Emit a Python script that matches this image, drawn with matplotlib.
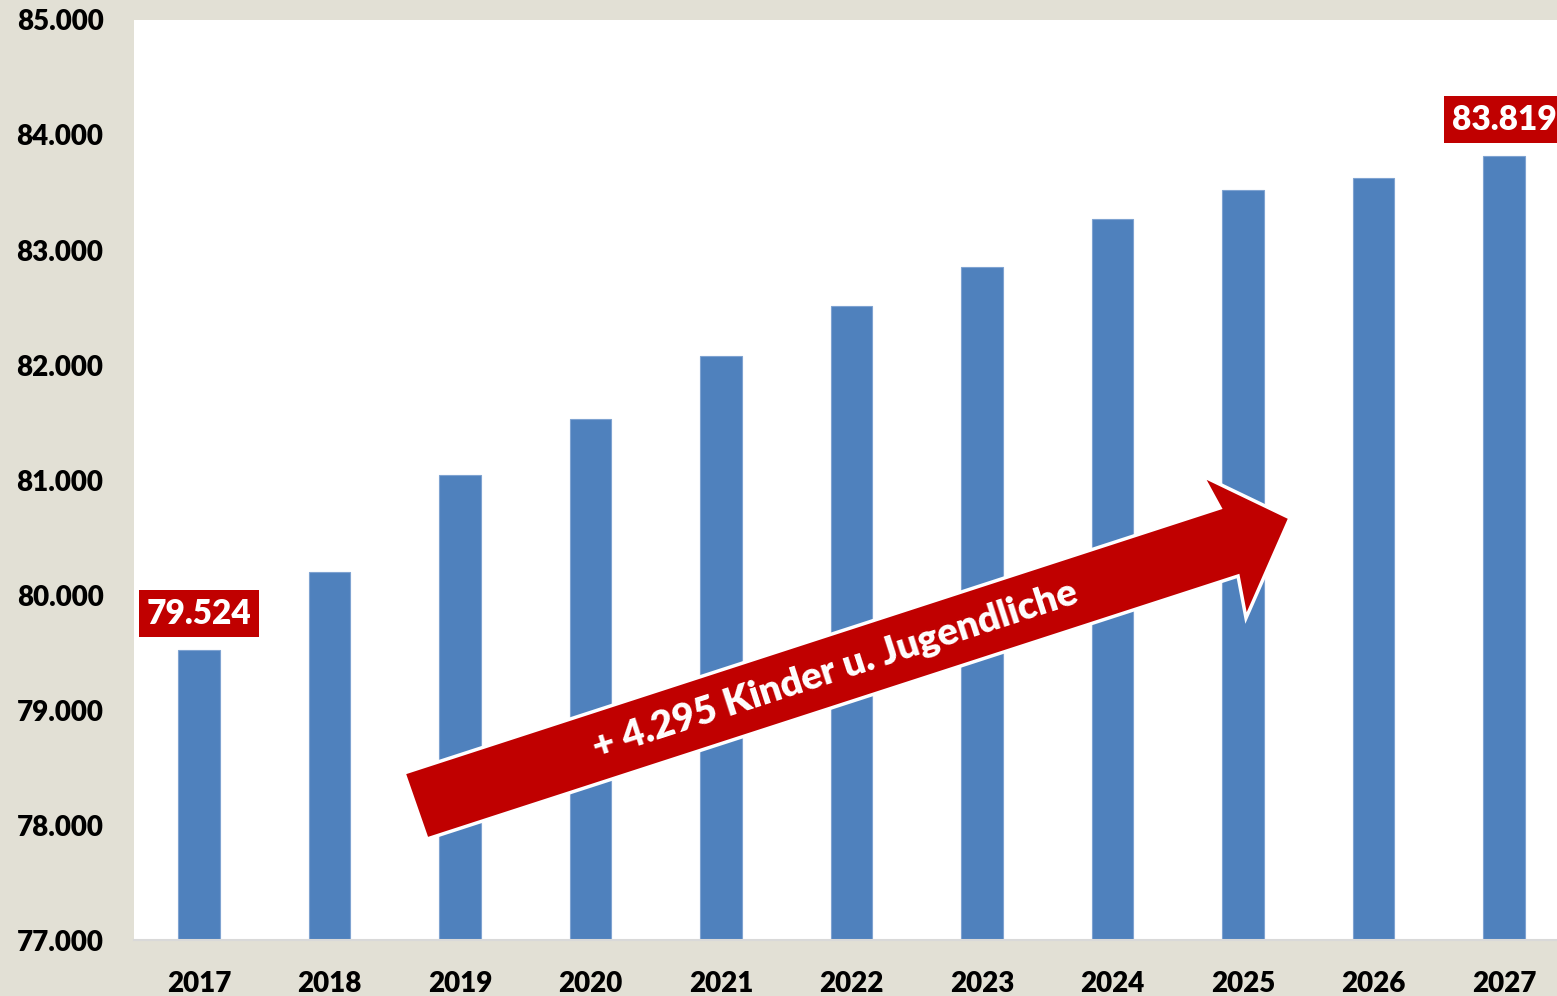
import matplotlib.pyplot as plt
from matplotlib.patches import Polygon

years = ["2017", "2018", "2019", "2020", "2021", "2022", "2023", "2024", "2025", "2026", "2027"]
values = [79524, 80200, 81040, 81530, 82080, 82510, 82850, 83270, 83520, 83630, 83819]
y_ticks = [77000, 78000, 79000, 80000, 81000, 82000, 83000, 84000, 85000]
y_tick_labels = ["77.000", "78.000", "79.000", "80.000", "81.000", "82.000", "83.000", "84.000", "85.000"]
arrow_text = "+ 4.295 Kinder u. Jugendliche"

BG = "#E2E0D5"
BAR = "#4F81BD"
RED = "#C00000"
FONT = "Lato"
WEIGHT = "heavy"


def fmt(v):
    return f"{v:,}".replace(",", ".")


def main():
    fig = plt.figure(figsize=(15.57, 9.96), dpi=100, facecolor=BG)
    ax = fig.add_axes([134 / 1557, 1 - 940 / 996, 1 - 134 / 1557, 920 / 996])
    ax.set_facecolor("white")

    x = list(range(len(years)))
    ax.bar(x, values, width=0.32, color=BAR, edgecolor="#7FA3D1", linewidth=0.8, zorder=2)

    ax.set_xlim(-0.498, 10.406)
    ax.set_ylim(77000, 85000)
    ax.set_yticks(y_ticks)
    ax.set_yticklabels(y_tick_labels)
    ax.set_xticks(x)
    ax.set_xticklabels(years)
    for lab in ax.get_xticklabels() + ax.get_yticklabels():
        lab.set_fontfamily(FONT)
        lab.set_fontweight(WEIGHT)
        lab.set_fontsize(20)
    ax.tick_params(axis="both", length=0)
    ax.tick_params(axis="y", pad=22)
    ax.tick_params(axis="x", pad=22)

    for s in ["top", "right", "left"]:
        ax.spines[s].set_visible(False)
    ax.spines["bottom"].set_color("#D9D9D9")
    ax.spines["bottom"].set_linewidth(1.5)
    ax.spines["bottom"].set_zorder(3)

    # labels for first and last year
    for i in [0, len(years) - 1]:
        ax.annotate(fmt(values[i]), xy=(x[i], values[i]), xytext=(0, 26),
                    textcoords="offset points", ha="center", va="center",
                    fontsize=24, fontweight=WEIGHT, fontfamily=FONT, color="white",
                    bbox=dict(boxstyle="square,pad=0.22", facecolor=RED, edgecolor="none"),
                    annotation_clip=False, zorder=5)

    # big red trend arrow (data coordinates)
    arrow_pts = [
        (1.571, 78452),
        (7.824, 80757),
        (7.690, 81035),
        (8.360, 80670),
        (8.023, 79800),
        (7.962, 80165),
        (1.747, 77878),
    ]
    ax.add_patch(Polygon(arrow_pts, closed=True, facecolor=RED, edgecolor="white",
                         linewidth=2.5, joinstyle="miter", zorder=4))
    ax.text(4.874, 79348, arrow_text, rotation=18, rotation_mode="anchor",
            ha="center", va="center", color="white", fontsize=27.5,
            fontweight=WEIGHT, fontfamily=FONT, zorder=5)

    fig.savefig("out.png", dpi=100, facecolor=BG)
    plt.close(fig)


if __name__ == "__main__":
    main()
